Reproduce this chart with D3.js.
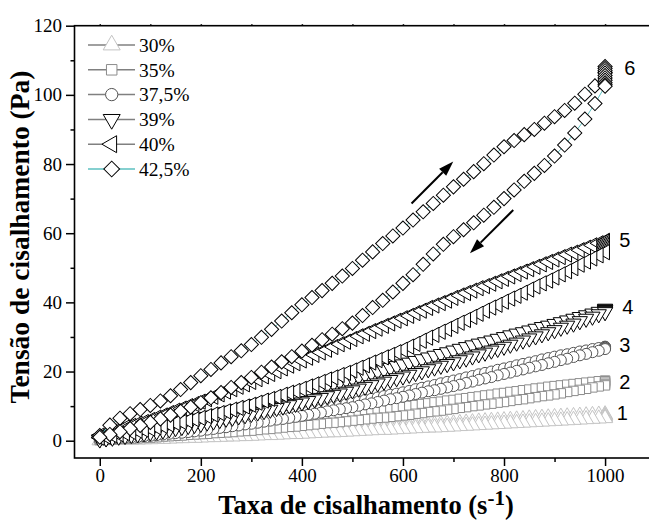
<!DOCTYPE html>
<html><head><meta charset="utf-8">
<script src="https://cdn.jsdelivr.net/npm/d3@7"></script>
<style>html,body{margin:0;padding:0;background:#fff;} svg{display:block}</style>
</head><body><svg id="chart" width="649" height="523"></svg>
<script>
// ---------------- DATA ----------------
// shear rates (1/s): 42.5% run sampled every 20, other runs every 12.5
const shearRate = [0,20,40,60,80,100,120,140,160,180,200,220,240,260,280,300,320,340,360,380,400,420,440,460,480,500,520,540,560,580,600,620,640,660,680,700,720,740,760,780,800,820,840,860,880,900,920,940,960,980,1000];
const shearRateFine = [0,12.5,25,37.5,50,62.5,75,87.5,100,112.5,125,137.5,150,162.5,175,187.5,200,212.5,225,237.5,250,262.5,275,287.5,300,312.5,325,337.5,350,362.5,375,387.5,400,412.5,425,437.5,450,462.5,475,487.5,500,512.5,525,537.5,550,562.5,575,587.5,600,612.5,625,637.5,650,662.5,675,687.5,700,712.5,725,737.5,750,762.5,775,787.5,800,812.5,825,837.5,850,862.5,875,887.5,900,912.5,925,937.5,950,962.5,975,987.5,1000];
const maxRate = 1000;

const seriesNames = ["30%","35%","37,5%","39%","40%","42,5%"];
const curveNumbers = ["1","2","3","4","5","6"];

// ramp-up branches (Pa)
const up30  = [0.1,0.2,0.2,0.3,0.4,0.4,0.5,0.5,0.6,0.7,0.7,0.8,0.9,0.9,1.0,1.0,1.1,1.2,1.3,1.4,1.5,1.5,1.6,1.7,1.8,1.9,2.0,2.1,2.2,2.3,2.4,2.5,2.6,2.7,2.8,2.9,3.0,3.1,3.2,3.3,3.4,3.5,3.6,3.7,3.8,3.9,4.0,4.1,4.2,4.3,4.4,4.5,4.6,4.7,4.8,4.9,5.0,5.1,5.2,5.3,5.5,5.6,5.7,5.8,5.9,6.0,6.1,6.2,6.4,6.5,6.6,6.7,6.8,6.9,7.0,7.1,7.2,7.3,7.4,7.5,7.6];
const up35  = [0.2,0.3,0.5,0.6,0.7,0.8,1.0,1.1,1.2,1.4,1.6,1.7,1.9,2.1,2.3,2.4,2.6,2.8,3.0,3.2,3.4,3.5,3.7,3.9,4.1,4.3,4.5,4.7,4.9,5.2,5.4,5.6,5.8,6.1,6.3,6.6,6.8,7.1,7.3,7.6,7.8,8.1,8.3,8.6,8.8,9.1,9.3,9.6,9.8,10.1,10.3,10.6,10.8,11.1,11.3,11.6,11.8,12.1,12.3,12.6,12.8,13.1,13.3,13.6,13.8,14.1,14.3,14.6,14.8,15.1,15.3,15.6,15.8,16.0,16.2,16.4,16.6,16.8,17.0,17.2,17.4];
const up375 = [0.3,0.5,0.6,0.8,1.0,1.1,1.3,1.4,1.6,1.8,2.1,2.3,2.5,2.7,3.0,3.2,3.4,3.7,3.9,4.2,4.5,4.7,5.0,5.2,5.5,5.8,6.1,6.4,6.8,7.1,7.4,7.7,8.0,8.4,8.8,9.1,9.5,9.9,10.3,10.6,11.0,11.4,11.8,12.1,12.5,12.9,13.3,13.6,14.0,14.4,14.9,15.3,15.7,16.1,16.6,17.0,17.4,17.8,18.3,18.7,19.2,19.6,20.0,20.5,20.9,21.3,21.8,22.2,22.6,23.0,23.5,23.9,24.3,24.7,25.0,25.4,25.8,26.1,26.5,26.8,27.2];
const up39  = [0.5,0.8,1.2,1.5,1.9,2.2,2.5,2.9,3.2,3.6,4.0,4.4,4.8,5.2,5.6,6.0,6.4,6.9,7.3,7.8,8.3,8.7,9.2,9.6,10.1,10.6,11.1,11.6,12.1,12.6,13.1,13.6,14.1,14.6,15.1,15.6,16.1,16.6,17.1,17.6,18.1,18.6,19.1,19.6,20.1,20.6,21.1,21.6,22.1,22.6,23.1,23.6,24.1,24.6,25.1,25.6,26.1,26.6,27.1,27.6,28.1,28.5,29.0,29.5,30.0,30.5,31.0,31.4,31.9,32.4,32.9,33.3,33.8,34.3,34.8,35.3,35.8,36.3,36.8,37.3,37.8];
const up40  = [1.5,2.1,2.6,3.2,3.8,4.3,4.9,5.4,6.0,6.7,7.3,8.0,8.7,9.3,10.0,10.6,11.3,12.0,12.7,13.4,14.2,14.9,15.6,16.3,17.0,17.8,18.6,19.3,20.1,20.9,21.7,22.4,23.2,24.0,24.8,25.5,26.3,27.1,27.9,28.6,29.4,30.2,30.9,31.7,32.4,33.2,33.9,34.7,35.4,36.1,36.9,37.6,38.4,39.1,39.8,40.5,41.3,42.0,42.7,43.4,44.1,44.7,45.4,46.1,46.8,47.5,48.2,48.9,49.6,50.3,51.0,51.7,52.4,53.1,53.8,54.4,55.1,55.8,56.5,57.1,57.8];
const up425 = [1.5,4.5,6.5,7.8,9.0,10.2,11.5,13.0,14.8,16.8,18.8,20.6,22.5,24.3,26.0,27.8,29.9,32.2,34.6,37.0,39.3,41.4,43.4,45.5,47.6,49.8,52.2,54.6,57.0,59.2,61.5,63.8,66.2,68.6,71.0,73.4,75.6,77.8,80.1,82.6,85.0,86.8,88.5,90.0,91.8,93.7,95.5,97.6,100.2,102.6,106.5];

// holding at the maximum rate (Pa)
const hold30  = [7.4,7.0,6.7];
const hold35  = [17.2,16.8,16.4];
const hold375 = [27.1,26.9,26.7];
const hold39  = [38.2,38.0,37.8,37.6,37.4];
const hold40  = [57.6,57.2,56.8,56.4,56.0,55.6,55.2,54.8];
const hold425 = [108.2,107.6,107.0,106.3,105.6,104.9,104.2,103.5,102.9];

// ramp-down branches (Pa), listed from the maximum rate back to 0
const down30  = [6.5,6.4,6.3,6.2,6.1,6.0,5.9,5.8,5.7,5.6,5.5,5.4,5.3,5.2,5.1,5.0,4.9,4.8,4.7,4.6,4.5,4.4,4.3,4.2,4.1,4.0,3.9,3.8,3.8,3.7,3.6,3.5,3.4,3.3,3.2,3.1,3.1,3.0,2.9,2.8,2.7,2.6,2.5,2.4,2.4,2.3,2.2,2.1,2.0,1.9,1.9,1.8,1.7,1.6,1.6,1.5,1.4,1.3,1.3,1.2,1.2,1.1,1.0,1.0,0.9,0.8,0.8,0.7,0.7,0.6,0.5,0.5,0.4,0.4,0.3,0.3,0.3,0.2,0.2,0.1,0.1];
const down35  = [16.0,15.7,15.4,15.0,14.7,14.4,14.1,13.7,13.4,13.1,12.9,12.6,12.3,12.0,11.8,11.5,11.2,11.0,10.7,10.5,10.2,10.0,9.7,9.5,9.2,9.0,8.7,8.5,8.3,8.0,7.8,7.5,7.3,7.1,6.9,6.7,6.6,6.4,6.2,6.0,5.8,5.6,5.4,5.2,5.1,4.9,4.7,4.5,4.3,4.1,4.0,3.8,3.6,3.4,3.3,3.1,2.9,2.8,2.7,2.5,2.4,2.3,2.2,2.0,1.9,1.8,1.7,1.5,1.4,1.3,1.2,1.0,0.9,0.8,0.7,0.6,0.6,0.5,0.4,0.3,0.2];
const down375 = [26.5,26.0,25.6,25.1,24.7,24.2,23.7,23.3,22.8,22.4,21.9,21.5,21.1,20.6,20.2,19.7,19.3,18.9,18.4,18.0,17.6,17.1,16.7,16.2,15.8,15.4,15.0,14.6,14.3,13.9,13.5,13.1,12.7,12.3,12.0,11.6,11.2,10.8,10.5,10.1,9.7,9.4,9.1,8.8,8.5,8.1,7.8,7.5,7.2,6.9,6.6,6.3,6.1,5.8,5.5,5.2,4.9,4.7,4.4,4.2,3.9,3.7,3.4,3.2,2.9,2.7,2.5,2.3,2.2,2.0,1.8,1.6,1.4,1.3,1.1,1.0,0.9,0.7,0.6,0.4,0.3];
const down39  = [37.2,36.6,35.9,35.3,34.6,33.9,33.3,32.7,32.0,31.4,30.8,30.2,29.6,29.0,28.4,27.8,27.2,26.6,26.1,25.5,25.0,24.4,23.8,23.3,22.7,22.2,21.7,21.2,20.7,20.1,19.6,19.1,18.6,18.1,17.6,17.1,16.6,16.1,15.6,15.1,14.6,14.2,13.7,13.3,12.9,12.4,12.0,11.5,11.1,10.7,10.3,9.9,9.5,9.0,8.6,8.2,7.8,7.4,7.1,6.7,6.4,6.0,5.6,5.3,4.9,4.6,4.3,4.0,3.7,3.3,3.0,2.7,2.4,2.2,1.9,1.7,1.4,1.2,0.9,0.7,0.4];
const down40  = [54.5,53.6,52.7,51.8,50.9,49.9,49.0,48.1,47.2,46.3,45.5,44.6,43.7,42.8,41.9,41.1,40.2,39.3,38.5,37.6,36.7,35.8,34.9,34.1,33.2,32.3,31.5,30.6,29.8,28.9,28.0,27.2,26.3,25.6,24.8,24.1,23.3,22.6,21.8,21.1,20.3,19.6,19.0,18.3,17.7,17.0,16.3,15.7,15.0,14.4,13.9,13.3,12.7,12.1,11.6,11.0,10.4,9.9,9.5,9.0,8.5,8.0,7.6,7.1,6.6,6.2,5.8,5.4,5.1,4.7,4.3,3.9,3.5,3.2,2.9,2.5,2.2,1.9,1.6,1.2,0.9];
const down425 = [102.5,97.5,93.0,89.0,85.5,82.3,79.6,77.3,75.0,72.5,70.0,67.5,65.2,63.0,61.0,59.0,56.8,54.0,51.0,48.0,45.5,43.0,40.6,38.5,36.2,34.0,32.4,30.8,29.2,27.6,25.9,24.3,22.8,21.3,19.8,18.3,16.8,15.4,13.9,12.4,11.0,9.7,8.5,7.4,6.3,5.3,4.4,3.5,2.6,1.8,1.0];

const xMajorTicks = [0,200,400,600,800,1000];
const xMinorTicks = [100,300,500,700,900];
const yMajorTicks = [0,20,40,60,80,100,120];
const yMinorTicks = [10,30,50,70,90,110];

// ---------------- STYLE / LAYOUT ----------------
const W = 649, H = 523;
const plot = {left: 74.5, right: 655.6, top: 25.7, bottom: 458};
const SERIF = '"Liberation Serif", "Times New Roman", serif';
const SANS = '"Liberation Sans", Arial, sans-serif';

const styles = [
  {type: d3.symbolTriangle, rot: 0,   size: 100, color: "#c4c4c4", line: "#c4c4c4", legLine: "#808080"},
  {type: d3.symbolSquare,   rot: 0,   size: 88,  color: "#8c8c8c", line: "#8c8c8c", legLine: "#808080"},
  {type: d3.symbolCircle,   rot: 0,   size: 95,  color: "#555555", line: "#777777", legLine: "#808080"},
  {type: d3.symbolTriangle, rot: 180, size: 100, color: "#000000", line: "#666666", legLine: "#808080"},
  {type: d3.symbolTriangle, rot: -90, size: 100, color: "#000000", line: "#666666", legLine: "#808080"},
  {type: d3.symbolSquare,   rot: 45,  size: 100, color: "#000000", line: "#5cc0c0", legLine: "#5cc0c0"}
];
const rates = [shearRateFine, shearRateFine, shearRateFine, shearRateFine, shearRateFine, shearRate];
const ups = [up30, up35, up375, up39, up40, up425];
const holds = [hold30, hold35, hold375, hold39, hold40, hold425];
const downs = [down30, down35, down375, down39, down40, down425];

const svg = d3.select("#chart");
svg.append("rect").attr("width", W).attr("height", H).attr("fill", "#fff");

const x = d3.scaleLinear().domain([-50, 1100]).range([plot.left, plot.right]);
const y = d3.scaleLinear().domain([-5, 120]).range([plot.bottom, plot.top]);

// ---------------- SERIES ----------------
const gData = svg.append("g");
seriesNames.forEach((name, i) => {
  const st = styles[i];
  const r = rates[i];
  const rDown = [...r].reverse();
  const pts = [
    ...ups[i].map((v, k) => [r[k], v]),
    ...holds[i].map(v => [maxRate, v]),
    ...downs[i].map((v, k) => [rDown[k], v])
  ];
  const g = gData.append("g");
  g.append("path")
    .attr("d", d3.line().x(d => x(d[0])).y(d => y(d[1]))(pts))
    .attr("fill", "none").attr("stroke", st.line).attr("stroke-width", 1);
  g.selectAll("path.m").data(pts).join("path").attr("class", "m")
    .attr("d", d3.symbol(st.type, st.size))
    .attr("transform", d => `translate(${x(d[0])},${y(d[1])}) rotate(${st.rot})`)
    .attr("fill", "#fff").attr("stroke", st.color).attr("stroke-width", 1);
});

// ---------------- AXES ----------------
function styleAxis(g) {
  g.attr("font-family", null).attr("font-size", null);
  g.select(".domain").remove();
  g.selectAll("line").attr("stroke", "#000").attr("stroke-width", 1.5);
  g.selectAll("text").style("font-family", SERIF).style("font-size", "19px").attr("fill", "#000");
}
svg.append("g").attr("transform", `translate(0,${plot.bottom})`)
  .call(d3.axisBottom(x).tickValues(xMajorTicks).tickFormat(d3.format("d")).tickSize(8).tickSizeOuter(0).tickPadding(3))
  .call(styleAxis);
svg.append("g").attr("transform", `translate(0,${plot.bottom})`)
  .call(d3.axisBottom(x).tickValues(xMinorTicks).tickFormat("").tickSize(4).tickSizeOuter(0))
  .call(styleAxis);
svg.append("g").attr("transform", `translate(${plot.left},0)`)
  .call(d3.axisLeft(y).tickValues(yMajorTicks).tickFormat(d3.format("d")).tickSize(8.5).tickSizeOuter(0).tickPadding(4))
  .call(styleAxis);
svg.append("g").attr("transform", `translate(${plot.left},0)`)
  .call(d3.axisLeft(y).tickValues(yMinorTicks).tickFormat("").tickSize(4).tickSizeOuter(0))
  .call(styleAxis);
svg.append("g").attr("transform", `translate(0,${plot.top})`)
  .call(d3.axisTop(x).tickValues(xMajorTicks.concat(xMinorTicks)).tickFormat("").tickSize(1.5).tickSizeOuter(0))
  .call(styleAxis);

svg.append("rect")
  .attr("x", plot.left).attr("y", plot.top)
  .attr("width", plot.right - plot.left).attr("height", plot.bottom - plot.top)
  .attr("fill", "none").attr("stroke", "#000").attr("stroke-width", 1.6);

// axis titles
const xt = svg.append("text").attr("x", 366).attr("y", 514).attr("text-anchor", "middle")
  .style("font-family", SERIF).style("font-weight", "bold").style("font-size", "26.5px");
xt.append("tspan").text("Taxa de cisalhamento (s");
xt.append("tspan").style("font-size", "21px").attr("dy", -9).text("-1");
xt.append("tspan").attr("dy", 9).text(")");

svg.append("text").attr("transform", "translate(29,237) rotate(-90)").attr("text-anchor", "middle")
  .style("font-family", SERIF).style("font-weight", "bold").style("font-size", "27.5px")
  .text("Tensão de cisalhamento (Pa)");

// ---------------- LEGEND ----------------
const leg = svg.append("g");
seriesNames.forEach((name, i) => {
  const st = styles[i];
  const cy = 45 + i * 24.8;
  leg.append("line").attr("x1", 88).attr("x2", 135).attr("y1", cy).attr("y2", cy)
    .attr("stroke", st.legLine).attr("stroke-width", 1.5);
  leg.append("path").attr("d", d3.symbol(st.type, st.size * 1.25)())
    .attr("transform", `translate(111.7,${cy}) rotate(${st.rot})`)
    .attr("fill", "#fff").attr("stroke", st.color).attr("stroke-width", 1);
  leg.append("text").attr("x", 139).attr("y", cy).attr("dy", "0.35em")
    .style("font-family", SERIF).style("font-size", "19.5px").text(name);
});

// ---------------- ANNOTATIONS ----------------
const arrows = [
  {from: [617, 68.6], to: [699.6, 80.7]},
  {from: [818.3, 66.7], to: [732.6, 54.2]}
];
arrows.forEach(a => {
  const x0 = x(a.from[0]), y0 = y(a.from[1]), x1 = x(a.to[0]), y1 = y(a.to[1]);
  const ang = Math.atan2(y1 - y0, x1 - x0);
  const L = 15, hw = 5;
  const bx = x1 - L * Math.cos(ang), by = y1 - L * Math.sin(ang);
  svg.append("line").attr("x1", x0).attr("y1", y0).attr("x2", bx).attr("y2", by)
    .attr("stroke", "#000").attr("stroke-width", 2);
  const px = -Math.sin(ang), py = Math.cos(ang);
  svg.append("path")
    .attr("d", `M${x1},${y1}L${bx + hw * px},${by + hw * py}L${bx - hw * px},${by - hw * py}Z`)
    .attr("fill", "#000");
});

const curveLabelPos = [[1034, 8.0], [1039, 17.0], [1039, 27.7], [1045, 38.7], [1039, 58.0], [1049, 107.9]];
curveNumbers.forEach((t, i) => {
  svg.append("text").attr("x", x(curveLabelPos[i][0])).attr("y", y(curveLabelPos[i][1]))
    .attr("dy", "0.36em").attr("text-anchor", "middle")
    .style("font-family", SANS).style("font-size", "20px").text(t);
});
</script>
</body></html>
